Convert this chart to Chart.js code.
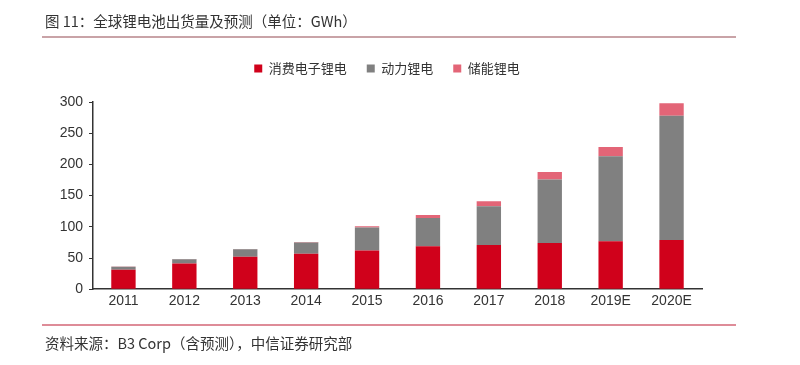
<!DOCTYPE html>
<html>
<head>
<meta charset="utf-8">
<script src="https://cdn.jsdelivr.net/npm/chart.js@4"></script>
<style>
  body { margin: 0; background: #fff; }
  #wrap { position: relative; width: 800px; height: 365px; overflow: hidden; }
  #report { position: absolute; left: 0; top: 0; }
  .cap { position: absolute; left: 45px; font-family: "Noto Sans CJK SC", sans-serif; color: #333; white-space: nowrap; }
  #title { top: 10px; font-size: 14.5px; }
  #source { top: 332px; font-size: 14.5px; }
  .rule { position: absolute; left: 42px; width: 694px; height: 2px; }
</style>
</head>
<body>
<div id="wrap">
  <canvas id="report" width="800" height="365"></canvas>
  <div id="title" class="cap">图 11：全球锂电池出货量及预测（单位：GWh）</div>
  <div class="rule" style="top:36px; background:#c9a3a7"></div>
  <div class="rule" style="top:324px; background:#de8c98"></div>
  <div id="source" class="cap">资料来源：B3 Corp（含预测），中信证券研究部</div>
</div>
<script>
// --- DATA ---
const years = ["2011", "2012", "2013", "2014", "2015", "2016", "2017", "2018", "2019E", "2020E"];
const consumer = [31, 41, 52, 57, 62, 69, 71, 74, 77, 79]; //   消费电子锂电
const power = [5, 7, 12, 18, 37, 45, 62, 102, 136, 199]; //      动力锂电
const storage = [0.5, 0.5, 0.5, 0.5, 2, 5, 8, 12, 15, 20]; //   储能锂电
const yTicks = [0, 50, 100, 150, 200, 250, 300];

(() => {
  const canvas = document.getElementById("report");
  const font = { family: "'Liberation Sans', Arial, sans-serif", size: 14 };

  // legend: extra space below it, and nudged right a bit
  const legendTweak = {
    id: "legendTweak",
    beforeUpdate(chart) {
      const legend = chart.legend;
      if (!legend || legend._tweaked) return;
      const fit = legend.fit;
      legend.fit = function () {
        fit.call(this);
        this.height += 17;
      };
      legend._tweaked = true;
    },
    afterLayout(chart) {
      chart.legend.left += 16;
      chart.legend.right += 16;
    },
  };

  new Chart(canvas, {
    type: "bar",
    data: {
      labels: years,
      datasets: [
        { label: "消费电子锂电", data: consumer, backgroundColor: "#d0011b" },
        { label: "动力锂电", data: power, backgroundColor: "#808080" },
        { label: "储能锂电", data: storage, backgroundColor: "#e36577" },
      ],
    },
    options: {
      responsive: false,
      animation: false,
      layout: { padding: { top: 42, left: 40, right: 98, bottom: 51 } },
      datasets: { bar: { barPercentage: 0.8, categoryPercentage: 0.5 } },
      plugins: {
        tooltip: { enabled: false },
        legend: {
          position: "top",
          labels: {
            boxWidth: 8,
            boxHeight: 8,
            padding: 20,
            color: "#333",
            font: { family: "'Noto Sans CJK SC', sans-serif", size: 13 },
          },
        },
      },
      scales: {
        x: {
          stacked: true,
          grid: { display: false, drawTicks: false },
          border: { color: "#333", width: 1.5 },
          ticks: { color: "#333", font: font, padding: 4 },
        },
        y: {
          stacked: true,
          min: 0,
          max: 300,
          afterBuildTicks: (scale) => {
            scale.ticks = yTicks.map((v) => ({ value: v }));
          },
          afterFit: (scale) => {
            scale.width = 53;
          },
          grid: { display: true, drawOnChartArea: false, tickLength: 4, color: "#333" },
          border: { color: "#333", width: 1.5 },
          ticks: { color: "#333", font: font, padding: 6 },
        },
      },
    },
    plugins: [legendTweak],
  });
})();
</script>
</body>
</html>
